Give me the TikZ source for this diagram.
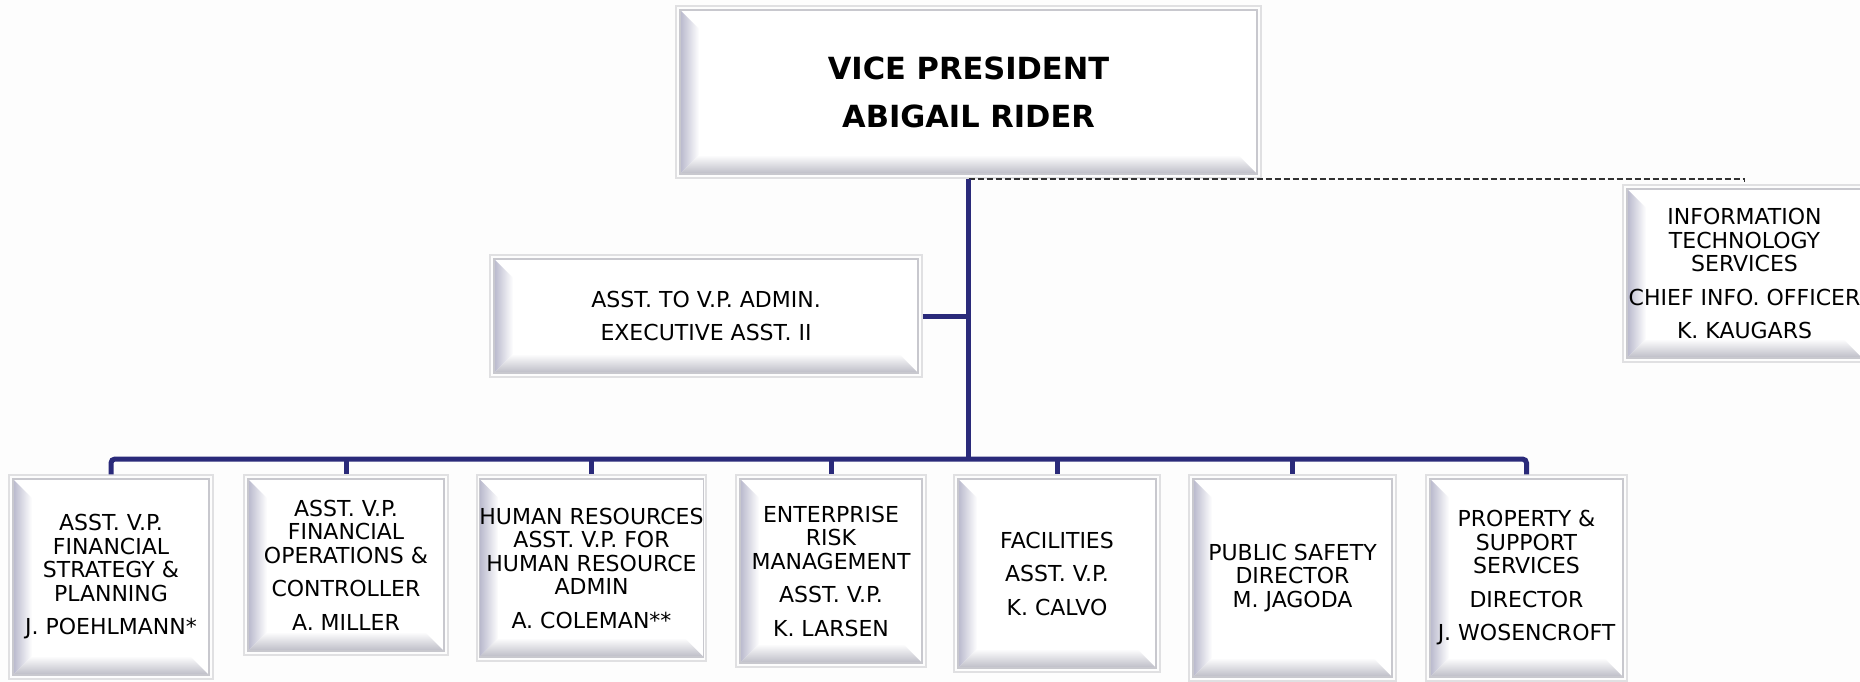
\documentclass[tikz,border=0pt]{standalone}
\usepackage{fontspec}
\setmainfont{DejaVu Sans}
\usetikzlibrary{calc}
\definecolor{navy}{RGB}{42,42,122}
\definecolor{bevL}{RGB}{184,184,204}
\definecolor{bevB}{RGB}{188,188,198}
\definecolor{bevBorder}{RGB}{200,200,206}
\definecolor{frameC}{RGB}{224,224,226}
\definecolor{bgC}{RGB}{253,253,253}
\definecolor{dashC}{RGB}{50,50,50}
\tikzset{
  bevel/.style={draw=bevBorder, line width=1.5pt, fill=white, inner sep=0pt, align=center,
    font=\fontsize{22}{23.5}\selectfont, text=black,
    path picture={
      \path (path picture bounding box.south west) coordinate (bvSW)
            (path picture bounding box.north west) coordinate (bvNW)
            (path picture bounding box.south east) coordinate (bvSE);
      \shade[left color=bevL, right color=white] (bvSW) -- (bvNW) -- ([shift={(19pt,-19pt)}]bvNW) -- ([shift={(19pt,19pt)}]bvSW) -- cycle;
      \shade[top color=white, bottom color=bevB] (bvSW) -- ([shift={(19pt,19pt)}]bvSW) -- ([shift={(-19pt,19pt)}]bvSE) -- (bvSE) -- cycle;
    }},
  outerframe/.style={draw=frameC, line width=1.5pt},
  bus/.style={draw=navy, line width=5pt},
  dashline/.style={draw=dashC, line width=1.1pt, dash pattern=on 6pt off 3pt},
  vpfont/.style={font=\fontsize{30.5}{48}\selectfont\bfseries},
}
\newcommand\obox[7]{%
  \draw[outerframe] (#2,#3) rectangle (#4,#5);
  \node[bevel, minimum width={#4-#2-8}, minimum height={#5-#3-8}, #6] (#1) at ({(#2+#4)/2},{(#3+#5)/2}) {#7};
}
\begin{document}
\begin{tikzpicture}[x=1pt,y=-1pt]
\useasboundingbox (0,0) rectangle (1860,682);
\clip (0,0) rectangle (1860,682);
\fill[bgC] (0,0) rectangle (1860,682);
\coordinate (busY) at (0,459);
\coordinate (dashY) at (0,179);

\obox{VP}{676}{6}{1261}{178}{vpfont}{VICE PRESIDENT\\ABIGAIL RIDER}
\obox{AS}{490}{255}{922}{377}{}{ASST. TO V.P. ADMIN.\\[10pt]EXECUTIVE ASST. II}
\obox{IT}{1623}{185}{1866}{362}{}{INFORMATION\\TECHNOLOGY\\SERVICES\\[10pt]CHIEF INFO. OFFICER\\[10pt]K. KAUGARS}
\obox{B1}{9}{475}{213}{679}{}{ASST. V.P.\\FINANCIAL\\STRATEGY \&\\PLANNING\\[10pt]J. POEHLMANN*}
\obox{B2}{244}{475}{448}{655}{}{ASST. V.P.\\FINANCIAL\\OPERATIONS \&\\[10pt]CONTROLLER\\[10pt]A. MILLER}
\obox{B3}{477}{475}{706}{661}{}{HUMAN RESOURCES\\ASST. V.P. FOR\\HUMAN RESOURCE\\ADMIN\\[10pt]A. COLEMAN**}
\obox{B4}{736}{475}{926}{667}{}{ENTERPRISE\\RISK\\MANAGEMENT\\[10pt]ASST. V.P.\\[10pt]K. LARSEN}
\obox{B5}{954}{475}{1160}{672}{}{FACILITIES\\[10pt]ASST. V.P.\\[10pt]K. CALVO}
\obox{B6}{1189}{475}{1396}{681}{}{PUBLIC SAFETY\\DIRECTOR\\M. JAGODA}
\obox{B7}{1426}{475}{1627}{681}{}{PROPERTY \&\\SUPPORT\\SERVICES\\[10pt]DIRECTOR\\[10pt]J. WOSENCROFT}

\draw[dashline] (VP.south |- dashY) -- (IT.north |- dashY) -- ([yshift=6pt]IT.north);
\draw[bus] ([yshift=-4pt]VP.south) -- (VP.south |- busY);
\draw[bus] ([xshift=4pt]AS.east) -- (AS.east -| VP.south);
\draw[bus, rounded corners=4pt] ([yshift=4pt]B1.north) -- (B1.north |- busY) -- (B7.north |- busY) -- ([yshift=4pt]B7.north);
\foreach \b in {B2,B3,B4,B5,B6}{
  \draw[bus] (\b.north |- busY) -- ([yshift=4pt]\b.north);
}
\end{tikzpicture}
\end{document}
